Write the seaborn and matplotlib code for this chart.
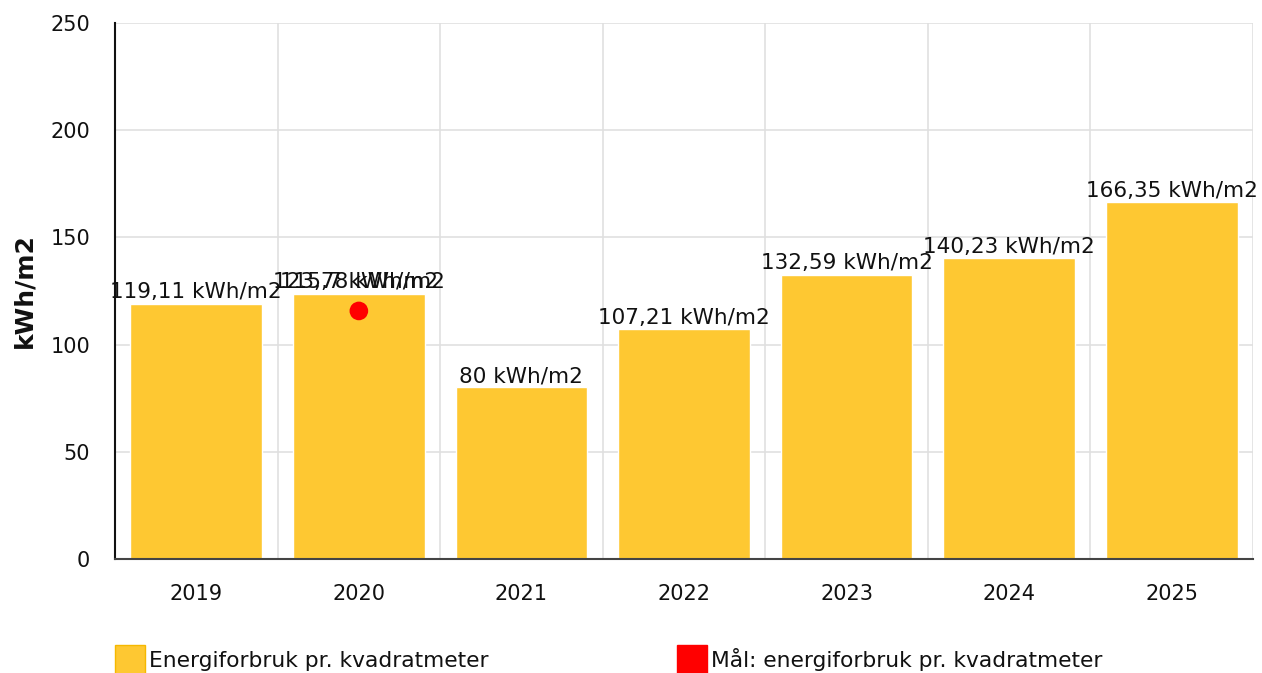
import matplotlib
matplotlib.use("Agg")
import matplotlib.pyplot as plt
import seaborn as sns
import pandas as pd
from matplotlib.lines import Line2D

years = ["2019", "2020", "2021", "2022", "2023", "2024", "2025"]
usage = [119.11, 123.78, 80.0, 107.21, 132.59, 140.23, 166.35]
usage_labels = ["119,11 kWh/m2", "123,78 kWh/m2", "80 kWh/m2", "107,21 kWh/m2",
                "132,59 kWh/m2", "140,23 kWh/m2", "166,35 kWh/m2"]
target_years = ["2020"]
target_values = [115.7]
target_labels = ["115,7 kWh/m2"]
yticks = [0, 50, 100, 150, 200, 250]

sns.set_theme(style="white")
plt.rcParams['font.family'] = ['DejaVu Sans']

bar_color = "#FEC832"
red = "#FF0000"
txt = "#111111"

df = pd.DataFrame({"year": years, "value": usage})
tdf = pd.DataFrame({"year": target_years, "value": target_values})

fig = plt.figure(figsize=(12.62, 6.73), dpi=100)
ax = fig.add_axes([115/1262, 1 - 559/673, (1253-115)/1262, (559-23)/673])

sns.barplot(data=df, x="year", y="value", order=years, color=bar_color,
            saturation=1, width=0.81, ax=ax, zorder=2)
pos = {y: i for i, y in enumerate(years)}
tdf["xpos"] = tdf["year"].map(pos)
sns.scatterplot(data=tdf, x="xpos", y="value", color=red, s=180, edgecolor="none",
                ax=ax, zorder=4, legend=False)

for i, (v, lab) in enumerate(zip(usage, usage_labels)):
    ax.text(i, v + 0.6, lab, ha="center", va="bottom", fontsize=15.5, color=txt, zorder=5)
for y, v, lab in zip(target_years, target_values, target_labels):
    ax.text(pos[y], usage[pos[y]] + 0.6, lab, ha="center", va="bottom", fontsize=15.5,
            color=txt, zorder=5)

ax.set_xlim(-0.5, len(years) - 0.5)
ax.set_ylim(0, 250)
ax.set_yticks(yticks)
ax.set_yticklabels([str(t) for t in yticks], fontsize=15, color=txt)
ax.tick_params(axis="x", labelsize=15, colors=txt, length=6, width=1, direction="out", pad=12)
ax.tick_params(axis="x", color="#555555")
ax.tick_params(axis="y", length=9, width=1.2, direction="out", pad=9, color=txt)
ax.set_xlabel("")
ax.set_ylabel("kWh/m2", fontsize=18, fontweight="bold", labelpad=10, color=txt)

# grid
for t in yticks[1:]:
    ax.axhline(t, color="#E0E0E0", lw=1.2, zorder=0)
for b in range(1, len(years) + 1):
    ax.axvline(b - 0.5, color="#E0E0E0", lw=1.2, zorder=0)

for s in ["top", "right"]:
    ax.spines[s].set_visible(False)
ax.spines["left"].set_color(txt)
ax.spines["left"].set_linewidth(1.5)
ax.spines["bottom"].set_color("#444444")
ax.spines["bottom"].set_linewidth(1.5)

handles = [
    Line2D([0], [0], marker="s", linestyle="none", markersize=21, markerfacecolor=bar_color,
           markeredgecolor="#F5B800", label="Energiforbruk pr. kvadratmeter"),
    Line2D([0], [0], marker="s", linestyle="none", markersize=21, markerfacecolor=red,
           markeredgecolor=red, label="Mål: energiforbruk pr. kvadratmeter"),
]
fig.legend(handles=handles, loc="lower left", bbox_to_anchor=(101/1262, -0.017), ncol=2,
           frameon=False, fontsize=15.7, handletextpad=0.1, columnspacing=8.6,
           handlelength=1.5, borderaxespad=0.2, labelcolor=txt)

fig.savefig("out.png", dpi=100)
